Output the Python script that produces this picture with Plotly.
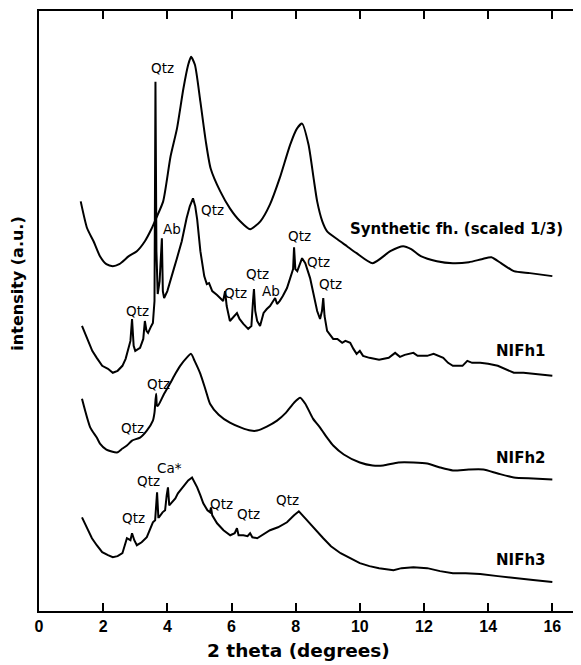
import plotly.graph_objects as go

# ---- data (2 theta in degrees, intensity in arbitrary units with offsets) ----
syn_x = [1.30, 1.5, 1.7, 1.9, 2.1, 2.3, 2.5, 2.8, 3.05, 3.3, 3.5, 3.65, 3.87, 4.1, 4.3, 4.5, 4.65, 4.74,
         4.86, 5.03, 5.2, 5.35, 5.65, 5.95, 6.27, 6.58, 6.9, 7.2, 7.5, 7.83, 8.04, 8.2, 8.4, 8.56, 8.67,
         8.83, 8.98, 9.3, 9.6, 9.9, 10.4, 10.95, 11.35, 11.6, 11.9, 12.4, 12.9, 13.4, 13.8, 14.1, 14.4,
         14.8, 15.3, 16.0]
syn_y = [410, 383, 370, 355, 347, 345, 347, 355, 360, 370, 382, 393, 410, 455, 483, 523, 547, 555,
         547, 510, 470, 443, 420, 403, 390, 382, 390, 407, 433, 467, 483, 488, 467, 433, 410,
         390, 380, 372, 365, 358, 348, 360, 365, 362, 355, 350, 348, 349, 352, 354, 348,
         340, 338, 335]

n1_x = [1.34, 1.5, 1.66, 1.8, 1.97, 2.15, 2.3, 2.45, 2.6, 2.7, 2.78, 2.85, 2.9, 2.95, 3.0, 3.15, 3.25,
        3.3, 3.35, 3.4, 3.5, 3.55, 3.6, 3.63, 3.66, 3.7, 3.76, 3.8, 3.83, 3.86, 3.9, 4.0, 4.08, 4.2,
        4.3, 4.45, 4.6, 4.7, 4.8, 4.87, 4.93, 5.03, 5.15, 5.23, 5.3, 5.4, 5.55, 5.74, 5.8, 5.85, 5.95,
        6.05, 6.17, 6.25, 6.37, 6.52, 6.62, 6.67, 6.7, 6.74, 6.8, 6.89, 7.0, 7.1, 7.2, 7.3, 7.36, 7.42,
        7.5, 7.6, 7.73, 7.85, 7.92, 7.95, 7.99, 8.05, 8.2, 8.3, 8.45, 8.55, 8.67, 8.76, 8.82, 8.86,
        8.9, 8.98, 9.1, 9.17, 9.3, 9.45, 9.55, 9.7, 9.8, 9.9, 10.0, 10.1, 10.3, 10.6, 10.9, 11.1,
        11.25, 11.4, 11.67, 11.8, 12.1, 12.3, 12.6, 12.75, 12.9, 13.2, 13.35, 13.5, 13.75, 14.0,
        14.3, 14.5, 14.8, 15.1, 15.4, 15.7, 16.0]
n1_y = [285, 272, 260, 253, 245, 242, 238, 240, 245, 252, 263, 270, 292, 265, 260, 263, 272,
        290, 280, 278, 285, 288, 310, 530, 360, 317, 330, 365, 373, 320, 313, 320, 330, 342,
        353, 370, 393, 405, 413, 405, 392, 360, 335, 327, 328, 320, 316, 310, 320, 305, 290,
        294, 298, 292, 287, 282, 285, 310, 322, 300, 290, 285, 298, 302, 305, 310, 313, 307,
        310, 315, 323, 335, 342, 364, 342, 340, 353, 348, 333, 318, 300, 292, 300, 313,
        295, 280, 275, 272, 272, 268, 270, 268, 262, 257, 260, 255, 253, 251, 253, 258,
        254, 256, 258, 255, 255, 257, 253, 248, 245, 245, 250, 248, 248, 247,
        245, 242, 238, 238, 237, 236, 235]

n2_x = [1.34, 1.6, 1.8, 1.9, 2.1, 2.43, 2.6, 2.74, 2.9, 3.15, 3.36, 3.55, 3.6, 3.65, 3.68, 3.71, 3.9,
        4.08, 4.25, 4.4, 4.6, 4.74, 4.85, 5.03, 5.2, 5.33, 5.6, 5.95, 6.3, 6.6, 6.8, 7.1, 7.42, 7.7,
        7.95, 8.14, 8.3, 8.54, 8.76, 9.0, 9.17, 9.5, 10.0, 10.4, 10.73, 11.2, 11.67, 12.1, 12.5,
        12.9, 13.4, 13.85, 14.3, 14.8, 15.4, 16.0]
n2_y = [212, 183, 173, 167, 161, 158, 162, 165, 170, 173, 180, 190, 198, 217, 205, 205, 217,
        227, 237, 245, 253, 257, 250, 237, 220, 207, 196, 188, 183, 180, 180, 184, 190, 198,
        208, 213, 207, 192, 183, 172, 165, 156, 148, 145, 145, 148, 148, 147, 143,
        140, 141, 141, 137, 133, 132, 131]

n3_x = [1.34, 1.5, 1.65, 1.8, 1.97, 2.15, 2.3, 2.45, 2.6, 2.74, 2.85, 2.9, 2.97, 3.05, 3.2, 3.36, 3.45,
        3.55, 3.62, 3.68, 3.72, 3.74, 3.85, 3.93, 3.98, 4.02, 4.06, 4.15, 4.25, 4.33, 4.45, 4.55, 4.65,
        4.77, 4.85, 4.93, 5.03, 5.12, 5.25, 5.33, 5.36, 5.4, 5.55, 5.75, 5.96, 6.1, 6.17, 6.22, 6.37,
        6.5, 6.58, 6.65, 6.8, 7.0, 7.2, 7.45, 7.73, 7.95, 8.1, 8.3, 8.54, 8.7, 8.86, 9.1, 9.4, 9.7,
        10.0, 10.3, 10.6, 11.05, 11.3, 11.67, 12.1, 12.5, 12.9, 13.3, 13.75, 14.3, 14.8, 15.4, 16.0]
n3_y = [93, 82, 72, 65, 58, 55, 53, 54, 57, 72, 70, 77, 70, 65, 68, 73, 80,
        88, 90, 118, 93, 93, 98, 100, 115, 123, 105, 108, 112, 117, 122, 127, 130,
        133, 128, 123, 115, 107, 100, 98, 103, 95, 87, 80, 75, 77, 82, 75, 75,
        74, 77, 73, 72, 76, 80, 83, 88, 95, 99, 92, 83, 77, 72, 64, 57, 52,
        47, 44, 42, 40, 42, 43, 42, 39, 37, 37, 36, 34, 32, 30, 28]

# peak labels: (text, x, y)
peak_labels = [
    ("Qtz", 3.84, 544), ("Ab", 4.15, 382), ("Qtz", 5.4, 401), ("Qtz", 8.11, 375),
    ("Qtz", 3.06, 300), ("Qtz", 6.11, 318), ("Qtz", 6.8, 337), ("Ab", 7.23, 320),
    ("Qtz", 8.7, 349), ("Qtz", 9.07, 327),
    ("Qtz", 3.71, 227), ("Qtz", 2.9, 183),
    ("Qtz", 2.93, 92), ("Qtz", 3.4, 129), ("Ca*", 4.08, 142), ("Qtz", 5.68, 106),
    ("Qtz", 6.52, 96), ("Qtz", 7.76, 110),
]
sample_labels = [
    ("Synthetic fh. (scaled 1/3)", 16.4, 382),
    ("NIFh1", 15.85, 260),
    ("NIFh2", 15.85, 153),
    ("NIFh3", 15.88, 50),
]
x_ticks = [0, 2, 4, 6, 8, 10, 12, 14, 16]

fig = go.Figure()
series = [(syn_x, syn_y, "spline"), (n1_x, n1_y, "linear"),
          (n2_x, n2_y, "spline"), (n3_x, n3_y, "linear")]
for xs, ys, shape in series:
    fig.add_trace(go.Scatter(x=xs, y=ys, mode="lines",
                             line=dict(color="black", width=2, shape=shape, smoothing=0.6),
                             showlegend=False, hoverinfo="skip"))

for t, x, y in peak_labels:
    fig.add_annotation(x=x, y=y, text=t, showarrow=False,
                       font=dict(family="DejaVu Sans", size=13.5, color="black"),
                       xanchor="center", yanchor="middle")
for t, x, y in sample_labels:
    fig.add_annotation(x=x, y=y, text=t, showarrow=False,
                       font=dict(family="DejaVu Sans", size=15, color="black", weight="bold"),
                       xanchor="right", yanchor="middle")

# axis titles placed as annotations
fig.add_annotation(xref="paper", yref="paper", x=0.482, y=-0.065, text="2 theta (degrees)",
                   showarrow=False, xanchor="center", yanchor="middle",
                   font=dict(family="DejaVu Sans", size=18.5, color="black", weight="bold"))
fig.add_annotation(xref="paper", yref="paper", x=-0.0415, y=0.545, text="intensity (a.u.)",
                   showarrow=False, xanchor="center", yanchor="middle", textangle=-90,
                   borderpad=0,
                   font=dict(family="DejaVu Sans", size=16, color="black", weight="bold"))

fig.add_shape(type="line", xref="paper", yref="paper", x0=1, x1=1, y0=0, y1=1,
              line=dict(color="#cfcfcf", width=1))

# page body has an 8px default margin, so the figure is sized to fit the window
fig.update_layout(
    width=573, height=657,
    margin=dict(l=31, r=3, t=1, b=54),
    paper_bgcolor="white", plot_bgcolor="white",
    xaxis=dict(range=[0, 16.8], tickvals=x_ticks, ticktext=[str(v) for v in x_ticks],
               ticks="inside", ticklen=8, tickwidth=2, tickcolor="black",
               showline=True, linecolor="black", linewidth=2, mirror="ticks",
               showgrid=False, zeroline=False,
               tickfont=dict(family="Liberation Sans", size=16, color="black", weight="bold")),
    yaxis=dict(range=[-1, 601], showticklabels=False, ticks="",
               showline=True, linecolor="black", linewidth=2,
               showgrid=False, zeroline=False),
)
fig.write_html("out.html")
